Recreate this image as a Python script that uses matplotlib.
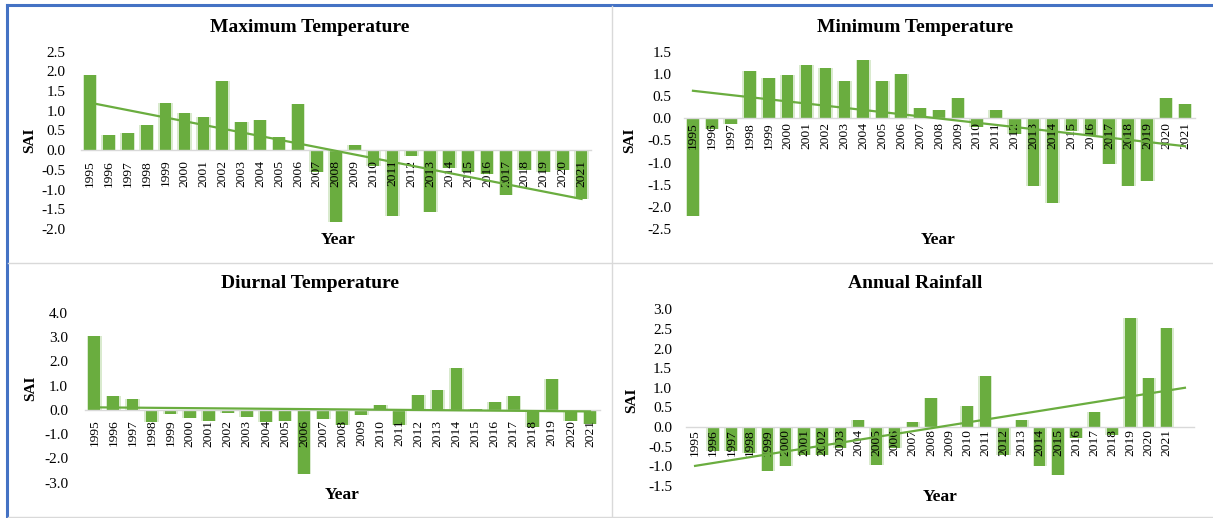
import numpy as np
import matplotlib
matplotlib.use('Agg')
import matplotlib.pyplot as plt
from matplotlib.lines import Line2D

plt.rcParams['font.family'] = ['Liberation Serif', 'DejaVu Serif']

years = list(range(1995, 2022))

max_temp = [1.90, 0.39, 0.44, 0.64, 1.19, 0.94, 0.85, 1.75, 0.71, 0.77, 0.32, 1.18, -0.55,
            -1.83, 0.14, -0.40, -1.66, -0.15, -1.58, -0.45, -0.55, -0.60, -1.15, -0.50,
            -0.55, -0.50, -1.24]
min_temp = [-2.20, -0.25, -0.12, 1.06, 0.91, 0.97, 1.19, 1.13, 0.83, 1.31, 0.85, 0.99, 0.23,
            0.19, 0.45, -0.21, 0.19, -0.35, -1.53, -1.91, -0.30, -0.39, -1.04, -1.52,
            -1.42, 0.45, 0.31]
diurnal = [3.06, 0.55, 0.45, -0.50, -0.19, -0.33, -0.44, -0.12, -0.30, -0.50, -0.47, -2.63,
           -0.37, -0.64, -0.23, 0.18, -0.64, 0.62, 0.82, 1.74, 0.04, 0.32, 0.56, -0.70,
           1.25, -0.44, -0.58]
rainfall = [-0.03, -0.62, -0.60, -0.65, -1.13, -1.00, -0.70, -0.70, -0.53, 0.17, -0.96,
            -0.53, 0.13, 0.74, -0.02, 0.54, 1.31, -0.70, 0.17, -1.00, -1.21, -0.27, 0.39,
            -0.19, 2.79, 1.26, 2.53]

titles = ['Maximum Temperature', 'Minimum Temperature', 'Diurnal Temperature', 'Annual Rainfall']
y_limits = [(-2.0, 2.5), (-2.5, 1.5), (-3.0, 4.0), (-1.5, 3.0)]
y_steps = [0.5, 0.5, 1.0, 0.5]

W, H = 1213, 518
GREEN = '#6aad3f'
GRID = '#d9d9d9'

fig = plt.figure(figsize=(W / 100, H / 100), dpi=100)


def px_rect(x0, y0, x1, y1):
    # pixel box (top-left origin) -> figure fraction rect
    return [x0 / W, 1 - y1 / H, (x1 - x0) / W, (y1 - y0) / H]


def fx(x):
    return x / W


def fy(y):
    return 1 - y / H


# panel layout in pixels: axes box, title/label centres, label pads
panels = [
    dict(box=(80.5, 51.5, 591.0, 229.0), title=(310, 27), xlab=(338, 240), ylab=(30, 140),
         xpad=7.0, ypad=11.0, extra=0),
    dict(box=(683.5, 51.7, 1194.5, 229.0), title=(915, 27), xlab=(938, 240), ylab=(630, 140),
         xpad=3.0, ypad=8.5, extra=0),
    dict(box=(84.8, 312.7, 599.5, 482.7), title=(310, 284), xlab=(342, 495), ylab=(31, 388),
         xpad=7.0, ypad=12.0, extra=0),
    dict(box=(686.0, 309.3, 1194.0, 486.0), title=(915, 283), xlab=(940, 497), ylab=(632, 400),
         xpad=1.5, ypad=10.0, extra=1),
]

series = [max_temp, min_temp, diurnal, rainfall]

for vals, title, ylim, step, p in zip(series, titles, y_limits, y_steps, panels):
    ax = fig.add_axes(px_rect(*p['box']))
    x = np.arange(len(vals))
    v = np.array(vals)

    # axis line through zero (set before ticks, it resets them)
    for s in ['top', 'right', 'left']:
        ax.spines[s].set_visible(False)
    ax.spines['bottom'].set_position(('data', 0))
    ax.spines['bottom'].set_color(GRID)
    ax.spines['bottom'].set_linewidth(1.0)

    # soft halo behind the bars, then the bars
    ax.bar(x, v, width=0.78, color=GREEN, alpha=0.25, zorder=0.9, linewidth=0)
    ax.bar(x, v, width=0.62, color=GREEN, zorder=1, linewidth=0)

    # linear trend (forecast forward where the axis has an extra slot)
    k, b = np.polyfit(x, v, 1)
    xt = np.array([0, len(vals) - 1 + p['extra']])
    ax.plot(xt, k * xt + b, color=GREEN, lw=1.6, zorder=3)

    ax.set_xlim(-0.5, len(vals) - 0.5 + p['extra'])
    ax.set_ylim(*ylim)
    yt = np.arange(ylim[0], ylim[1] + step / 2, step)
    ax.set_yticks(yt)
    ax.set_yticklabels(['%.1f' % t for t in yt])
    ax.set_xticks(x)
    ax.set_xticklabels([str(yr) for yr in years])

    ax.tick_params(axis='x', length=0, pad=p['xpad'], labelsize=9.7, labelcolor='black',
                   labelrotation=90)
    ax.tick_params(axis='y', length=0, pad=p['ypad'], labelsize=11, labelcolor='black')
    ax.patch.set_alpha(0)

    fig.text(fx(p['title'][0]), fy(p['title'][1]), title, ha='center', va='center',
             fontsize=14, fontweight='bold')
    fig.text(fx(p['xlab'][0]), fy(p['xlab'][1]), 'Year', ha='center', va='center',
             fontsize=12.5, fontweight='bold')
    fig.text(fx(p['ylab'][0]), fy(p['ylab'][1]), 'SAI', ha='center', va='center',
             rotation=90, fontsize=11, fontweight='bold')

# frame and panel dividers
frame = [
    ((6.5, 1213), (4.5, 4.5), '#4472c4', 2.2),
    ((6.5, 6.5), (4.5, 518), '#4472c4', 2.2),
    ((612, 612), (5.5, 518), GRID, 1.0),
    ((7.5, 1213), (263, 263), GRID, 1.0),
    ((7.5, 1213), (517, 517), GRID, 1.0),
]
for xs, ys, c, lw in frame:
    fig.add_artist(Line2D([fx(xs[0]), fx(xs[1])], [fy(ys[0]), fy(ys[1])], color=c, lw=lw))

fig.savefig('out.png', dpi=100)
